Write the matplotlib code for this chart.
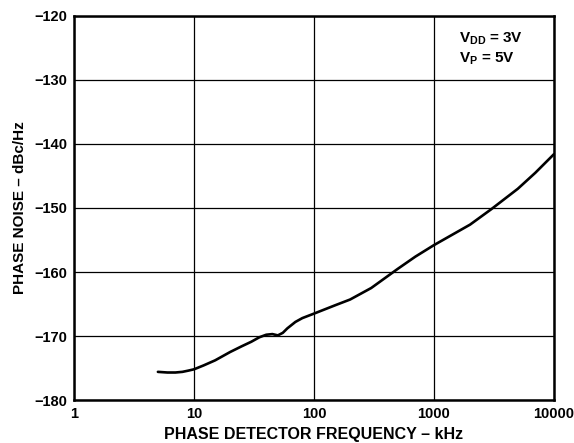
import numpy as np
import matplotlib.pyplot as plt

plt.rcParams['font.family'] = ['Liberation Sans', 'DejaVu Sans']
plt.rcParams['font.weight'] = 'bold'
plt.rcParams['mathtext.fontset'] = 'custom'
plt.rcParams['mathtext.rm'] = 'Liberation Sans:bold'
plt.rcParams['mathtext.it'] = 'Liberation Sans:bold'
plt.rcParams['mathtext.bf'] = 'Liberation Sans:bold'

# data
freq_khz = [5, 6, 7, 8, 9, 10, 12, 15, 20, 25, 30, 35, 40, 45, 50, 55, 60, 70, 80,
            100, 150, 200, 300, 500, 700, 1000, 2000, 3000, 5000, 7000, 10000]
noise_dbc = [-175.6, -175.7, -175.7, -175.6, -175.4, -175.2, -174.6, -173.8, -172.5,
             -171.6, -170.9, -170.2, -169.8, -169.7, -169.9, -169.5, -168.8, -167.8,
             -167.2, -166.5, -165.2, -164.3, -162.5, -159.5, -157.6, -155.8, -152.6,
             -150.2, -147.0, -144.5, -141.6]

x_ticks = [1, 10, 100, 1000, 10000]
x_labels = ['1', '10', '100', '1000', '10000']
y_ticks = [-180, -170, -160, -150, -140, -130, -120]
y_labels = ['\u2212180', '\u2212170', '\u2212160', '\u2212150', '\u2212140', '\u2212130', '\u2212120']

fig = plt.figure(figsize=(5.74, 4.43), dpi=100)
ax = fig.add_axes([0.129, 0.097, 0.836, 0.867])

ax.plot(freq_khz, noise_dbc, color='black', lw=1.9, solid_capstyle='round')

ax.set_xscale('log')
ax.set_xlim(1, 10000)
ax.set_ylim(-180, -120)
ax.set_xticks(x_ticks)
ax.set_xticklabels(x_labels)
ax.set_yticks(y_ticks)
ax.set_yticklabels(y_labels)
ax.minorticks_off()
ax.tick_params(length=0, labelsize=10.5, pad=5)
ax.grid(True, color='black', lw=0.9)
for s in ax.spines.values():
    s.set_linewidth(1.8)

ax.set_xlabel('PHASE DETECTOR FREQUENCY \u2013 kHz', fontsize=11.5, fontweight='bold', labelpad=4)
ax.set_ylabel('PHASE NOISE \u2013 dBc/Hz', fontsize=11, fontweight='bold', labelpad=5)

ax.text(0.802, 0.962, '$\\mathregular{V_{DD}}$ = 3V', transform=ax.transAxes,
        fontsize=11, fontweight='bold', va='top', ha='left')
ax.text(0.802, 0.91, '$\\mathregular{V_{P}}$ = 5V', transform=ax.transAxes,
        fontsize=11, fontweight='bold', va='top', ha='left')

fig.savefig('out.png', dpi=100)
